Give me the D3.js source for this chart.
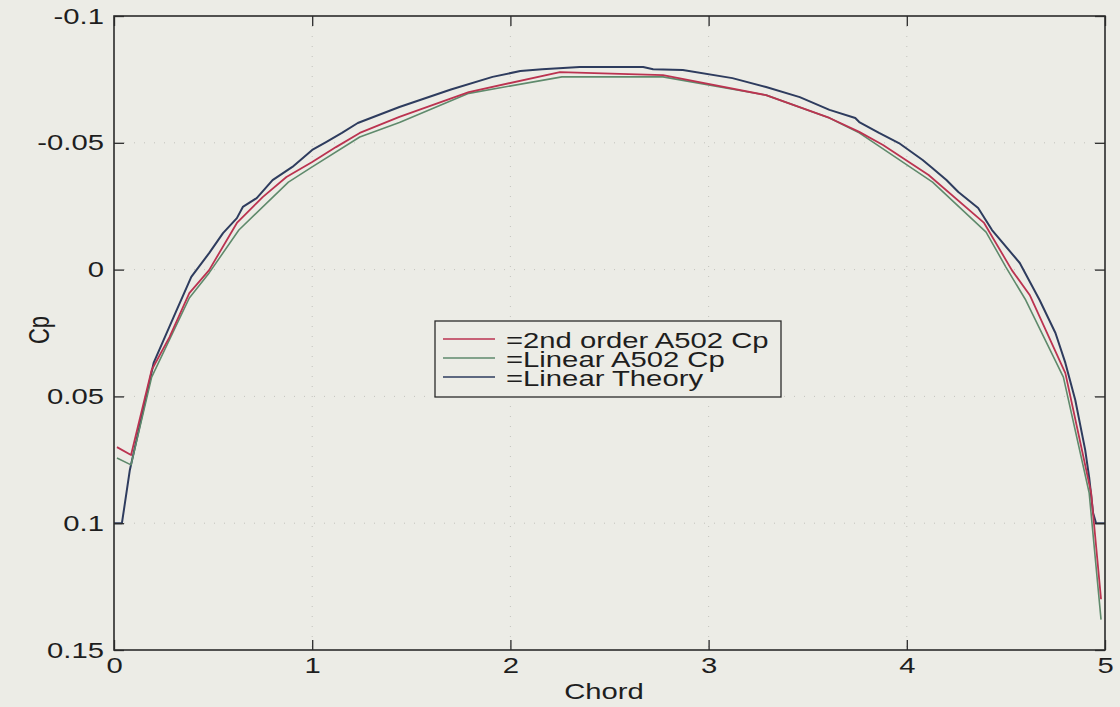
<!DOCTYPE html>
<html>
<head>
<meta charset="utf-8">
<script src="https://cdn.jsdelivr.net/npm/d3@7"></script>
<style>
  body { margin: 0; background: #ecece6; }
  svg { display: block; font-family: "Liberation Sans", Helvetica, Arial, sans-serif; }
</style>
</head>
<body>
<div id="chart"></div>
<script>
// Tick values and labels
const xTicks = [0, 1, 2, 3, 4, 5];
const yTicks = [-0.1, -0.05, 0, 0.05, 0.1, 0.15];
const yTickLabels = ["-0.1", "-0.05", "0", "0.05", "0.1", "0.15"];

// Series: [chord, Cp]
const linearTheory = [
  [0, 0.1], [0.04, 0.1], [0.08, 0.079], [0.2, 0.0368], [0.31, 0.0171],
  [0.39, 0.0029], [0.48, -0.0065], [0.55, -0.0144], [0.62, -0.0203], [0.65, -0.0247],
  [0.72, -0.0282], [0.8, -0.0353], [0.9, -0.0405], [1.0, -0.0472], [1.07, -0.0503],
  [1.15, -0.0539], [1.23, -0.0578], [1.44, -0.0641], [1.7, -0.071], [1.91, -0.076],
  [2.05, -0.0783], [2.16, -0.079], [2.35, -0.0799], [2.67, -0.0799], [2.72, -0.079],
  [2.87, -0.0787], [3.12, -0.0755], [3.29, -0.072], [3.46, -0.068], [3.61, -0.063],
  [3.74, -0.0598], [3.76, -0.0582], [3.86, -0.0539], [3.96, -0.0499], [4.08, -0.0432],
  [4.13, -0.04], [4.2, -0.0353], [4.26, -0.0306], [4.36, -0.0243], [4.43, -0.0156],
  [4.57, -0.0026], [4.67, 0.012], [4.75, 0.025], [4.8, 0.0368], [4.85, 0.0514],
  [4.9, 0.0711], [4.92, 0.0818], [4.94, 0.096], [4.955, 0.1], [5.0, 0.1]
];

const secondOrder = [
  [0.015, 0.07], [0.086, 0.0731], [0.19, 0.0396], [0.28, 0.0266], [0.38, 0.0093],
  [0.48, 0.0002], [0.62, -0.0184], [0.75, -0.0286], [0.87, -0.0365], [1.0, -0.0424],
  [1.12, -0.0483], [1.24, -0.0539], [1.44, -0.0602], [1.79, -0.07], [2.25, -0.0779],
  [2.77, -0.0767], [3.29, -0.0688], [3.61, -0.0598], [3.76, -0.0543], [3.88, -0.0491],
  [4.11, -0.0373], [4.39, -0.0184], [4.53, 0.0002], [4.62, 0.01], [4.8, 0.0408],
  [4.93, 0.088], [4.98, 0.13]
];

const linearA502 = [
  [0.015, 0.0743], [0.086, 0.077], [0.19, 0.0424], [0.38, 0.0112], [0.48, 0.0013],
  [0.63, -0.0156], [0.88, -0.0345], [1.0, -0.0405], [1.24, -0.0523], [1.44, -0.058],
  [1.79, -0.0695], [2.26, -0.076], [2.77, -0.076], [3.29, -0.0688], [3.61, -0.0598],
  [3.76, -0.0539], [4.13, -0.0345], [4.4, -0.0148], [4.5, -0.001], [4.6, 0.012],
  [4.79, 0.0424], [4.92, 0.088], [4.98, 0.138]
];

const legendLabels = ["=2nd order A502 Cp", "=Linear A502 Cp", "=Linear Theory"];
const colors = { red: "#bb3350", green: "#5f8a6c", navy: "#2e3c5e" };

const width = 1120, height = 707;
const plot = { left: 114, right: 1105, top: 16, bottom: 650 };
const stretch = 1.33; // scanned text is wider than tall

const svg = d3.select("#chart").append("svg")
  .attr("width", width)
  .attr("height", height);

svg.append("rect").attr("width", width).attr("height", height).attr("fill", "#ecece6");

const x = d3.scaleLinear().domain([0, 5]).range([plot.left, plot.right]);
const y = d3.scaleLinear().domain([-0.1, 0.15]).range([plot.top, plot.bottom]);

// Faint dotted grid
const grid = svg.append("g")
  .attr("stroke", "#a9a9a3")
  .attr("stroke-width", 1)
  .attr("stroke-dasharray", "1,9")
  .attr("opacity", 0.6);
grid.selectAll(".vg").data(xTicks.slice(1, -1)).enter().append("line")
  .attr("x1", d => x(d)).attr("x2", d => x(d))
  .attr("y1", plot.top).attr("y2", plot.bottom);
grid.selectAll(".hg").data(yTicks.slice(1, -1)).enter().append("line")
  .attr("x1", plot.left).attr("x2", plot.right)
  .attr("y1", d => y(d)).attr("y2", d => y(d));

// Curves
const line = d3.line().x(d => x(d[0])).y(d => y(d[1]));
const series = [
  { data: linearTheory, color: colors.navy, w: 2 },
  { data: linearA502, color: colors.green, w: 1.6 },
  { data: secondOrder, color: colors.red, w: 1.8 }
];
svg.selectAll(".curve").data(series).enter().append("path")
  .attr("class", "curve")
  .attr("d", d => line(d.data))
  .attr("fill", "none")
  .attr("stroke", d => d.color)
  .attr("stroke-width", d => d.w)
  .attr("stroke-linejoin", "round");

// Axes, ticks pointing inward on all four sides
const axisColor = "#2b2b2b";
function styleAxis(g) {
  g.select(".domain").remove();
  g.selectAll(".tick line").attr("stroke", axisColor).attr("stroke-width", 1.3);
  g.selectAll("text").attr("fill", "#1e1e1e").attr("font-size", 22)
    .attr("font-family", "'Liberation Sans', Helvetica, Arial, sans-serif");
}

svg.append("g")
  .attr("transform", `translate(0,${plot.bottom})`)
  .call(d3.axisBottom(x).tickValues(xTicks).tickSize(-10).tickFormat(d3.format("d")))
  .call(styleAxis)
  .call(g => g.selectAll("text").attr("y", 23).attr("dy", 0)
    .attr("transform", `scale(${stretch},1)`));

svg.append("g")
  .attr("transform", `translate(0,${plot.top})`)
  .call(d3.axisTop(x).tickValues(xTicks).tickSize(-10).tickFormat(""))
  .call(styleAxis);

svg.append("g")
  .attr("transform", `translate(${plot.left},0)`)
  .call(d3.axisLeft(y).tickValues(yTicks).tickSize(-10)
    .tickFormat((d, i) => yTickLabels[i]))
  .call(styleAxis)
  .call(g => g.selectAll("text").attr("x", -10 / stretch)
    .attr("transform", `scale(${stretch},1)`));

svg.append("g")
  .attr("transform", `translate(${plot.right},0)`)
  .call(d3.axisRight(y).tickValues(yTicks).tickSize(-10).tickFormat(""))
  .call(styleAxis);

// Box
svg.append("rect")
  .attr("x", plot.left).attr("y", plot.top)
  .attr("width", plot.right - plot.left).attr("height", plot.bottom - plot.top)
  .attr("fill", "none").attr("stroke", axisColor).attr("stroke-width", 1.6);

// Axis titles
svg.append("text")
  .attr("transform", `translate(604,699) scale(${stretch},1)`)
  .attr("text-anchor", "middle").attr("font-size", 22).attr("fill", "#1e1e1e")
  .text("Chord");

svg.append("text")
  .attr("transform", `translate(49,330) rotate(-90) scale(1,${stretch})`)
  .attr("text-anchor", "middle").attr("font-size", 22).attr("fill", "#1e1e1e")
  .text("Cp");

// Legend
const legend = svg.append("g");
legend.append("rect")
  .attr("x", 435).attr("y", 321).attr("width", 346).attr("height", 76)
  .attr("fill", "#ecece6").attr("stroke", axisColor).attr("stroke-width", 1.3);
const legendColors = [colors.red, colors.green, colors.navy];
const rowY = [339, 358, 377];
legend.selectAll(".lg-line").data(legendLabels).enter().append("line")
  .attr("x1", 443).attr("x2", 495)
  .attr("y1", (d, i) => rowY[i]).attr("y2", (d, i) => rowY[i])
  .attr("stroke", (d, i) => legendColors[i]).attr("stroke-width", 1.3);
legend.selectAll(".lg-text").data(legendLabels).enter().append("text")
  .attr("transform", (d, i) => `translate(506,${rowY[i] + 9}) scale(${stretch},1)`)
  .attr("font-size", 22).attr("fill", "#1e1e1e")
  .text(d => d);
</script>
</body>
</html>
